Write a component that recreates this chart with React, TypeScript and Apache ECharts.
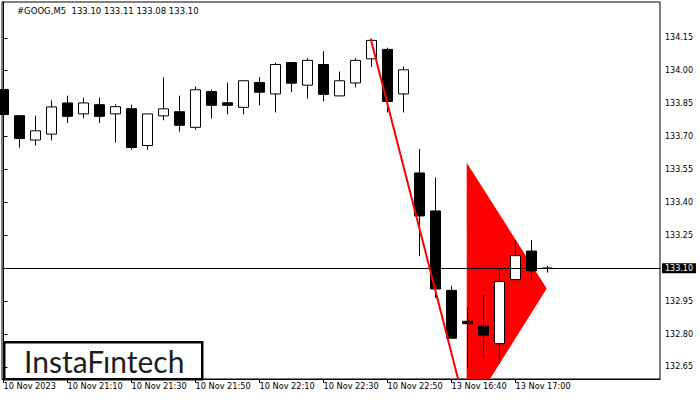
import React, { useEffect, useRef } from "react";
import * as echarts from "echarts";

// ---- data ----
const symbolName = "#GOOG,M5";
const candleIndex = [0,1,2,3,4,5,6,7,8,9,10,11,12,13,14,15,16,17,18,19,20,21,22,23,24,25,26,27,28,29,30,31,32,33,34];
const opens  = [133.914,133.795,133.684,133.711,133.853,133.803,133.845,133.803,133.827,133.659,133.794,133.813,133.742,133.905,133.854,133.833,133.946,133.894,134.037,133.934,134.028,133.885,133.944,134.054,134.097,133.894,133.534,133.361,132.999,132.858,132.835,132.756,133.048,133.178,133.10];
const highs  = [133.929,133.795,133.795,133.864,133.886,133.877,133.877,133.847,133.845,133.803,133.969,133.886,133.928,133.914,133.946,133.954,133.970,134.037,134.037,134.057,134.088,133.996,134.057,134.146,134.105,134.019,133.644,133.512,133.019,132.917,132.977,133.099,133.228,133.228,133.11];
const lows   = [133.751,133.650,133.659,133.682,133.762,133.783,133.762,133.673,133.640,133.640,133.774,133.723,133.731,133.783,133.801,133.801,133.842,133.810,133.902,133.873,133.860,133.885,133.924,134.016,133.810,133.810,133.156,132.964,132.781,132.644,132.694,132.664,133.048,133.048,133.08];
const closes = [133.800,133.691,133.726,133.835,133.792,133.853,133.792,133.836,133.650,133.803,133.826,133.751,133.913,133.842,133.842,133.954,133.902,134.028,133.943,134.047,133.892,133.954,134.047,134.138,133.860,134.004,133.338,133.005,132.781,132.847,132.795,133.039,133.157,133.088,133.10];

const timeTickIndex = [0, 4, 8, 12, 16, 20, 24, 28, 32];
const timeTickLabels = ["10 Nov 2023","10 Nov 21:10","10 Nov 21:30","10 Nov 21:50","10 Nov 22:10","10 Nov 22:30","10 Nov 22:50","13 Nov 16:40","13 Nov 17:00"];
const priceTicks = [132.65, 132.80, 132.95, 133.10, 133.25, 133.40, 133.55, 133.70, 133.85, 134.00, 134.15];

const trendX = [22.95, 29];
const trendY = [134.146, 132.428];
const pennantX = [28.95, 33.95, 28.95];
const pennantY = [133.581, 133.007, 132.426];

const xMin = -0.094;
const xMax = 41.03;
const yMin = 132.595;
const yMax = 134.313;

const FONT = "DejaVu Sans";

export default function App() {
  const ref = useRef<HTMLDivElement>(null);
  useEffect(() => {
    if (!ref.current) return;
    const chart = echarts.init(ref.current, null, { renderer: "svg" });
    const last = candleIndex.length - 1;
    const lastClose = closes[last];
    const header = `${symbolName}  ${opens[last].toFixed(2)} ${highs[last].toFixed(2)} ${lows[last].toFixed(2)} ${closes[last].toFixed(2)}`;
    const candleData = candleIndex.map((i, k) => [i, opens[k], closes[k], lows[k], highs[k]]);

    chart.setOption({
      animation: false,
      backgroundColor: "#ffffff",
      grid: {
        left: 2, right: 40, top: 2, bottom: 21,
        show: true, borderColor: "#000", borderWidth: 1,
        containLabel: false, outerBoundsMode: "none",
      },
      xAxis: {
        type: "value",
        min: xMin, max: xMax,
        splitLine: { show: false },
        axisLine: { show: true, lineStyle: { color: "#000", width: 1 } },
        axisTick: { show: true, customValues: timeTickIndex, length: 4, lineStyle: { color: "#000" } },
        axisLabel: {
          show: true,
          customValues: timeTickIndex,
          formatter: (v: number) => {
            const k = timeTickIndex.indexOf(Math.round(v));
            return k >= 0 ? timeTickLabels[k] : "";
          },
          align: "left",
          margin: 3,
          color: "#000",
          fontFamily: FONT,
          fontSize: 8.2,
          showMinLabel: true,
          showMaxLabel: true,
          hideOverlap: false,
        },
      },
      yAxis: {
        type: "value",
        position: "right",
        min: yMin, max: yMax,
        scale: true,
        splitLine: { show: false },
        axisLine: { show: true, lineStyle: { color: "#000", width: 1 } },
        axisTick: { show: true, customValues: priceTicks, length: 4, lineStyle: { color: "#000" } },
        axisLabel: {
          show: true,
          customValues: priceTicks.filter((p) => Math.abs(p - lastClose) > 1e-6),
          formatter: (v: number) => v.toFixed(2),
          margin: 5,
          color: "#000",
          fontFamily: FONT,
          fontSize: 8,
        },
      },
      series: [
        {
          type: "custom",
          name: "pennant",
          clip: true,
          z: 1,
          silent: true,
          data: [[pennantX[0], pennantY[0]]],
          encode: { x: 0, y: 1 },
          renderItem: (_params: any, api: any) => {
            const pts = pennantX.map((x, k) => api.coord([x, pennantY[k]]));
            return { type: "polygon", shape: { points: pts }, style: { fill: "#ff0000" } };
          },
        },
        {
          type: "candlestick",
          name: "GOOG",
          z: 3,
          barWidth: 10,
          data: candleData,
          encode: { x: 0, y: [1, 2, 3, 4] },
          itemStyle: {
            color: "#ffffff",
            color0: "#000000",
            borderColor: "#000000",
            borderColor0: "#000000",
            borderWidth: 1,
          },
          markLine: {
            silent: true,
            symbol: ["none", "none"],
            data: [{ yAxis: lastClose }],
            lineStyle: { color: "#000", width: 1, type: "solid" },
            label: {
              show: true,
              position: "end",
              distance: 2,
              formatter: () => lastClose.toFixed(2),
              color: "#fff",
              backgroundColor: "#000",
              padding: [1, 3, 1, 3],
              fontFamily: FONT,
              fontSize: 8,
            },
            emphasis: { disabled: true },
          },
        },
        {
          type: "line",
          name: "trend",
          z: 5,
          silent: true,
          symbol: "none",
          data: trendX.map((x, k) => [x, trendY[k]]),
          lineStyle: { color: "#ff0000", width: 2 },
        },
      ],
      graphic: [
        {
          type: "text",
          left: 17,
          top: 6,
          style: { text: header, fill: "#000", font: `8.5px '${FONT}'` },
          z: 10,
        },
        {
          type: "group",
          left: 3,
          top: 341,
          z: 20,
          children: [
            {
              type: "rect",
              shape: { x: 0, y: 0, width: 198, height: 37 },
              style: { fill: "#fff", stroke: "#000", lineWidth: 2.5 },
            },
            {
              type: "text",
              x: 100,
              y: 19,
              style: {
                text: "InstaFıntech",
                fill: "#1e1e1e",
                font: "30px Lato",
                align: "center",
                verticalAlign: "middle",
              },
            },
          ],
        },
      ],
    });
    return () => chart.dispose();
  }, []);
  return (
    <div
      ref={ref}
      style={{ position: "fixed", left: 0, top: 0, width: 700, height: 400, background: "#fff" }}
    />
  );
}
